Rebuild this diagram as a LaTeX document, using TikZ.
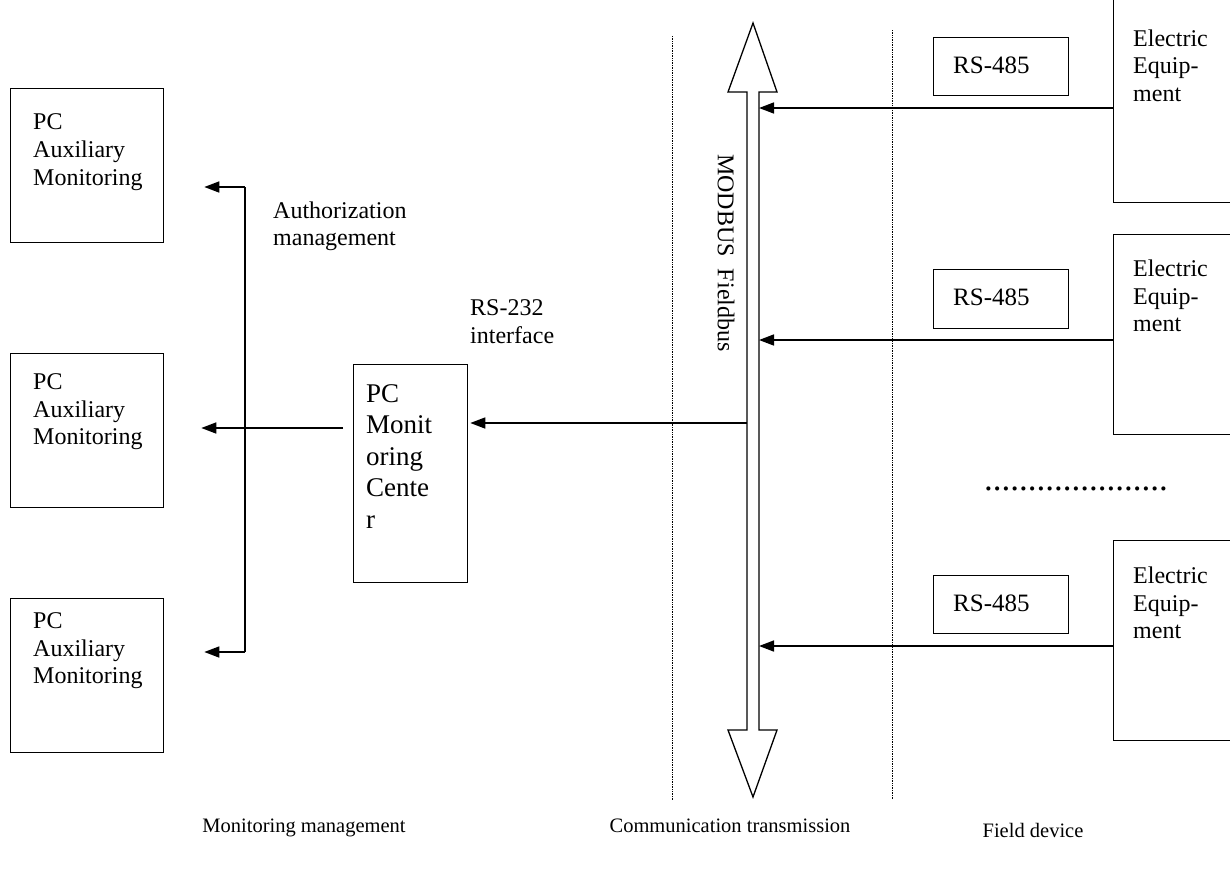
\documentclass[tikz,border=0pt]{standalone}
\usepackage{fontspec}
\setmainfont{Liberation Serif}
\usetikzlibrary{arrows.meta}
\begin{document}
\begin{tikzpicture}[x=1pt,y=-1pt,
  box/.style={draw, line width=1.3pt, inner sep=0pt, anchor=north west},
  txt/.style={font=\fontsize{24}{27.6}\selectfont, align=left, inner sep=0pt, anchor=base west},
  bigtxt/.style={font=\fontsize{27}{31.5}\selectfont, align=left, inner sep=0pt, anchor=base west},
  captxt/.style={font=\fontsize{20.5}{23}\selectfont, inner sep=0pt, anchor=base},
  arr/.style={line width=1.6pt, -{Triangle[length=15pt,width=11pt]}},
  conn/.style={line width=1.6pt},
  sepline/.style={line width=1pt, dash pattern=on 1pt off 0.7pt},
  busline/.style={line width=1.3pt, line join=miter}]
\useasboundingbox (0,0) rectangle (1230,871);

% separators
\coordinate (s1a) at (672,36); \coordinate (s1b) at (672,800);
\coordinate (s2a) at (892,30); \coordinate (s2b) at (892,800);
\draw[sepline] (s1a) -- (s1b);
\draw[sepline] (s2a) -- (s2b);

% bus
\draw[busline] (753,23) -- (777,92) -- (759,92) -- (759,730) -- (777,730) -- (753,797)
  -- (728,730) -- (747,730) -- (747,92) -- (728,92) -- cycle;
\coordinate (busL) at (747,0);
\coordinate (busR) at (759,0);
\node[font=\fontsize{24}{27.6}\selectfont, rotate=-90, inner sep=0pt] (bus) at (726,253) {MODBUS\ \ Fieldbus};

% left boxes
\node[box, minimum width=153pt, minimum height=154pt] (aux1) at (10,88) {};
\node[box, minimum width=153pt, minimum height=154pt] (aux2) at (10,353) {};
\node[box, minimum width=153pt, minimum height=154pt] (aux3) at (10,598) {};
\node[txt] (aux1t) at (33,185) {PC\\Auxiliary\\Monitoring};
\node[txt] (aux2t) at (33,444.6) {PC\\Auxiliary\\Monitoring};
\node[txt] (aux3t) at (33,683.6) {PC\\Auxiliary\\Monitoring};

% monitoring centre
\node[box, minimum width=114pt, minimum height=218pt] (pcm) at (353,364) {};
\node[bigtxt] (pcmt) at (366,528) {PC\\Monit\\oring\\Cente\\r};

% trunk and arrows
\coordinate (t1) at (245,187);
\coordinate (t3) at (245,652);
\draw[conn] (t1) -- (t3);
\draw[arr, shorten >=40pt] (t1) -- (t1 -| aux1.east);
\draw[arr, shorten >=40pt] (t3) -- (t3 -| aux3.east);
\coordinate (m0) at (343,428);
\draw[arr, shorten >=37pt] (m0) -- (m0 -| aux2.east);
\coordinate (b0) at (busL |- 0,423);
\draw[arr, shorten >=2pt] (b0) -- (b0 -| pcm.east);

\node[txt] (auth) at (273,245.8) {Authorization\\management};
\node[txt] (rs232) at (470,343.3) {RS-232\\interface};

% right side
\node[box, minimum width=135pt, minimum height=58pt] (rs1) at (933,37) {};
\node[box, minimum width=135pt, minimum height=59pt] (rs2) at (933,269) {};
\node[box, minimum width=135pt, minimum height=58pt] (rs3) at (933,575) {};
\node[txt, font=\fontsize{25}{28}\selectfont] (rs1t) at (953,73) {RS-485};
\node[txt, font=\fontsize{25}{28}\selectfont] (rs2t) at (953,305) {RS-485};
\node[txt, font=\fontsize{25}{28}\selectfont] (rs3t) at (953,611) {RS-485};

\node[box, minimum width=130pt, minimum height=204pt] (ee1) at (1113,-2) {};
\node[box, minimum width=130pt, minimum height=200pt] (ee2) at (1113,234) {};
\node[box, minimum width=130pt, minimum height=200pt] (ee3) at (1113,540) {};
\node[txt] (ee1t) at (1133,101.3) {Electric\\Equip-\\ment};
\node[txt] (ee2t) at (1133,331.6) {Electric\\Equip-\\ment};
\node[txt] (ee3t) at (1133,638.6) {Electric\\Equip-\\ment};

\coordinate (e1) at (ee1.west |- 0,108);
\coordinate (e2) at (ee2.west |- 0,340);
\coordinate (e3) at (ee3.west |- 0,646);
\draw[arr] (e1) -- (e1 -| busR);
\draw[arr] (e2) -- (e2 -| busR);
\draw[arr] (e3) -- (e3 -| busR);

\node[font=\fontsize{35}{40}\selectfont, inner sep=0pt, anchor=base west] (dots) at (984,490) {.....................};

% captions
\node[captxt] (cap1) at (304,832) {Monitoring management};
\node[captxt] (cap2) at (730,832) {Communication transmission};
\node[captxt] (cap3) at (1033,837) {Field device};
\end{tikzpicture}
\end{document}
